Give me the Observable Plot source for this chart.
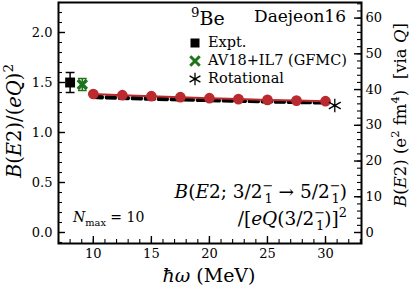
<!DOCTYPE html>
<html><head><meta charset="utf-8">
<script src="https://cdn.jsdelivr.net/npm/d3@7"></script>
<script src="https://cdn.jsdelivr.net/npm/@observablehq/plot@0.6"></script>
<style>
body{margin:0;background:#fff}
svg{font-family:"DejaVu Serif",serif}
</style>
</head><body><div id="chart"></div>
<script>
// ---- data ----
const hw = [10, 12.5, 15, 17.5, 20, 22.5, 25, 27.5, 30];
const bNmax10 = [1.385, 1.373, 1.363, 1.353, 1.343, 1.334, 1.326, 1.319, 1.313];
const bNmax8  = [1.362, 1.352, 1.343, 1.335, 1.327, 1.320, 1.313, 1.307, 1.302];
const bNmax6  = [1.350, 1.341, 1.333, 1.326, 1.319, 1.312, 1.306, 1.300, 1.295];
const exptHw = [8.0], exptVal = [1.50], exptErr = [0.10];
const gfmcHw = [9.05], gfmcVal = [1.48], gfmcErr = [0.06];
const rotHw = [30.8], rotVal = [1.27];
const leftTicks = [0, 0.5, 1.0, 1.5, 2.0];
const rightTicks = [0, 10, 20, 30, 40, 50, 60];
const xTicks = [10, 15, 20, 25, 30];
const Qval = 5.29; // e fm^2
const Q2 = Qval * Qval;

const RED = "#bb2a2e", GREEN = "#1c741c";

const W = 415, H = 287, mL = 58, mR = 54, mT = 2, mB = 44;
const fw = W - mL - mR, fh = H - mT - mB;

const leftMinor = d3.range(-0.1, 2.31, 0.1).map(v => +v.toFixed(2));
const rightMinor = d3.range(0, 66, 2).map(v => v / Q2);
const xMinor = d3.range(7, 34, 1);

const line10 = hw.map((x, i) => ({x, y: bNmax10[i]}));
const line8 = hw.map((x, i) => ({x, y: bNmax8[i]}));
const line6 = hw.map((x, i) => ({x, y: bNmax6[i]}));
const expt = exptHw.map((x, i) => ({x, y: exptVal[i], e: exptErr[i]}));
const gfmc = gfmcHw.map((x, i) => ({x, y: gfmcVal[i], e: gfmcErr[i]}));
const rot = rotHw.map((x, i) => ({x, y: rotVal[i]}));
const capHalf = 0.38;

const plot = Plot.plot({
  width: W, height: H, marginLeft: mL, marginRight: mR, marginTop: mT, marginBottom: mB,
  style: {fontFamily: "DejaVu Serif", fontSize: "13px", color: "black", background: "white", overflow: "visible"},
  x: {domain: [7, 33.1]},
  y: {domain: [-0.11, 2.3]},
  marks: [
    Plot.axisY({anchor: "left", ticks: leftTicks, tickSize: 0, tickPadding: 6, tickFormat: d => d.toFixed(1), label: null, fontSize: 13}),
    Plot.axisY({anchor: "right", ticks: rightTicks.map(v => v / Q2), tickSize: 0, tickPadding: 4, tickFormat: d => String(Math.round(d * Q2)), label: null, fontSize: 13}),
    Plot.axisX({ticks: xTicks, tickSize: 0, tickPadding: 5, label: null, fontSize: 13}),
    Plot.tickY(leftTicks, {y: d => d, insetRight: fw - 7, strokeWidth: 1.4}),
    Plot.tickY(leftMinor, {y: d => d, insetRight: fw - 4, strokeWidth: 1.1}),
    Plot.tickY(rightTicks.map(v => v / Q2), {y: d => d, insetLeft: fw - 7, strokeWidth: 1.4}),
    Plot.tickY(rightMinor, {y: d => d, insetLeft: fw - 4, strokeWidth: 1.1}),
    Plot.tickX(xTicks, {x: d => d, insetTop: fh - 7, strokeWidth: 1.4}),
    Plot.tickX(xMinor, {x: d => d, insetTop: fh - 4, strokeWidth: 1.1}),
    // lower-Nmax curves
    Plot.line(line6, {x: "x", y: "y", stroke: "black", strokeWidth: 3.2, strokeDasharray: "9,4"}),
    Plot.line(line8, {x: "x", y: "y", stroke: "black", strokeWidth: 3.2, strokeDasharray: "9,4"}),
    // Nmax = 10
    Plot.line(line10, {x: "x", y: "y", stroke: RED, strokeWidth: 2}),
    Plot.dot(line10, {x: "x", y: "y", r: 4.6, fill: RED, stroke: RED}),
    // experiment
    Plot.ruleX(expt, {x: "x", y1: d => d.y - d.e, y2: d => d.y + d.e, stroke: "black", strokeWidth: 1.5}),
    Plot.link(expt, {x1: d => d.x - capHalf, x2: d => d.x + capHalf, y1: d => d.y - d.e, y2: d => d.y - d.e, stroke: "black", strokeWidth: 1.5}),
    Plot.link(expt, {x1: d => d.x - capHalf, x2: d => d.x + capHalf, y1: d => d.y + d.e, y2: d => d.y + d.e, stroke: "black", strokeWidth: 1.5}),
    Plot.dot(expt, {x: "x", y: "y", symbol: "square", r: 5.6, fill: "black"}),
    // GFMC
    Plot.ruleX(gfmc, {x: "x", y1: d => d.y - d.e, y2: d => d.y + d.e, stroke: GREEN, strokeWidth: 1.5}),
    Plot.link(gfmc, {x1: d => d.x - capHalf, x2: d => d.x + capHalf, y1: d => d.y - d.e, y2: d => d.y - d.e, stroke: GREEN, strokeWidth: 1.5}),
    Plot.link(gfmc, {x1: d => d.x - capHalf, x2: d => d.x + capHalf, y1: d => d.y + d.e, y2: d => d.y + d.e, stroke: GREEN, strokeWidth: 1.5}),
    Plot.dot(gfmc, {x: "x", y: "y", symbol: "times", r: 4.2, stroke: GREEN, strokeWidth: 3.4}),
    // rotational
    Plot.dot(rot, {x: "x", y: "y", symbol: "asterisk", r: 6.5, stroke: "black", strokeWidth: 1.3}),
    Plot.frame({stroke: "black", strokeWidth: 2})
  ]
});
document.getElementById("chart").append(plot);

// ---- rich text annotations ----
const svg = d3.select(plot);
function rich(x, y, parts, {size = 14, anchor = "start", rotate = 0} = {}) {
  const t = svg.append("text")
    .attr("font-family", "DejaVu Serif").attr("font-size", size)
    .attr("fill", "black").attr("text-anchor", anchor);
  if (rotate) t.attr("transform", `translate(${x},${y}) rotate(${rotate})`);
  else t.attr("x", x).attr("y", y);
  let shift = 0;
  for (const p of parts) {
    const [s, st = "", extra = {}] = p;
    const ts = t.append("tspan").text(s);
    let target = 0, fs = null;
    if (st.includes("i")) ts.attr("font-style", "italic");
    if (st.includes("^")) { target = -0.42 * size; fs = 0.7 * size; }
    if (st.includes("_")) { target = 0.25 * size; fs = 0.7 * size; }
    if (fs) ts.attr("font-size", fs);
    const dy = target - shift;
    if (dy) ts.attr("dy", dy);
    shift = target;
    if (extra.dx) ts.attr("dx", extra.dx);
  }
  return t;
}

// axis labels
rich(21, 121, [["B", "i"], ["("], ["E", "i"], ["2)/("], ["eQ", "i"], [")"], ["2", "^"]], {size: 19.5, anchor: "middle", rotate: -90});
rich(209, 282, [["ħω", "i"], [" (MeV)"]], {size: 19, anchor: "middle"});
rich(406, 115, [["B", "i"], ["("], ["E", "i"], ["2) (e"], ["2", "^"], [" fm"], ["4", "^"], [")  [via "], ["Q", "i"], ["]"]], {size: 16.5, anchor: "middle", rotate: -90});

// annotations
rich(191, 25, [["9", "^"], ["Be"]], {size: 19});
rich(346, 22, [["Daejeon16"]], {size: 17, anchor: "end"});
rich(73, 222, [["N", "i"], ["max", "_"], [" = 10"]], {size: 14});

const sub1dx = -9;
rich(347, 198, [["B", "i"], ["("], ["E", "i"], ["2; 3/2"], ["−", "^"], ["1", "_", {dx: sub1dx}], [" → 5/2"], ["−", "^"], ["1", "_", {dx: sub1dx}], [")"]], {size: 18.5, anchor: "end"});
rich(347, 225, [["/["], ["eQ", "i"], ["(3/2"], ["−", "^"], ["1", "_", {dx: sub1dx}], [")]"], ["2", "^"]], {size: 18.5, anchor: "end"});

// legend
const lg = svg.append("g");
const lx = 195;
lg.append("rect").attr("x", lx - 4.5).attr("y", 43 - 4.5).attr("width", 9).attr("height", 9).attr("fill", "black");
lg.append("path").attr("transform", `translate(${lx},61)`).attr("d", d3.symbol(d3.symbolTimes, 60)()).attr("stroke", GREEN).attr("stroke-width", 3).attr("fill", "none");
lg.append("path").attr("transform", `translate(${lx},79)`).attr("d", d3.symbol(d3.symbolAsterisk, 110)()).attr("stroke", "black").attr("stroke-width", 1.3).attr("fill", "none");
rich(208, 47, [["Expt."]], {size: 14.5});
rich(208, 65, [["AV18+IL7 (GFMC)"]], {size: 14.5});
rich(208, 83, [["Rotational"]], {size: 14.5});
</script>
</body></html>
